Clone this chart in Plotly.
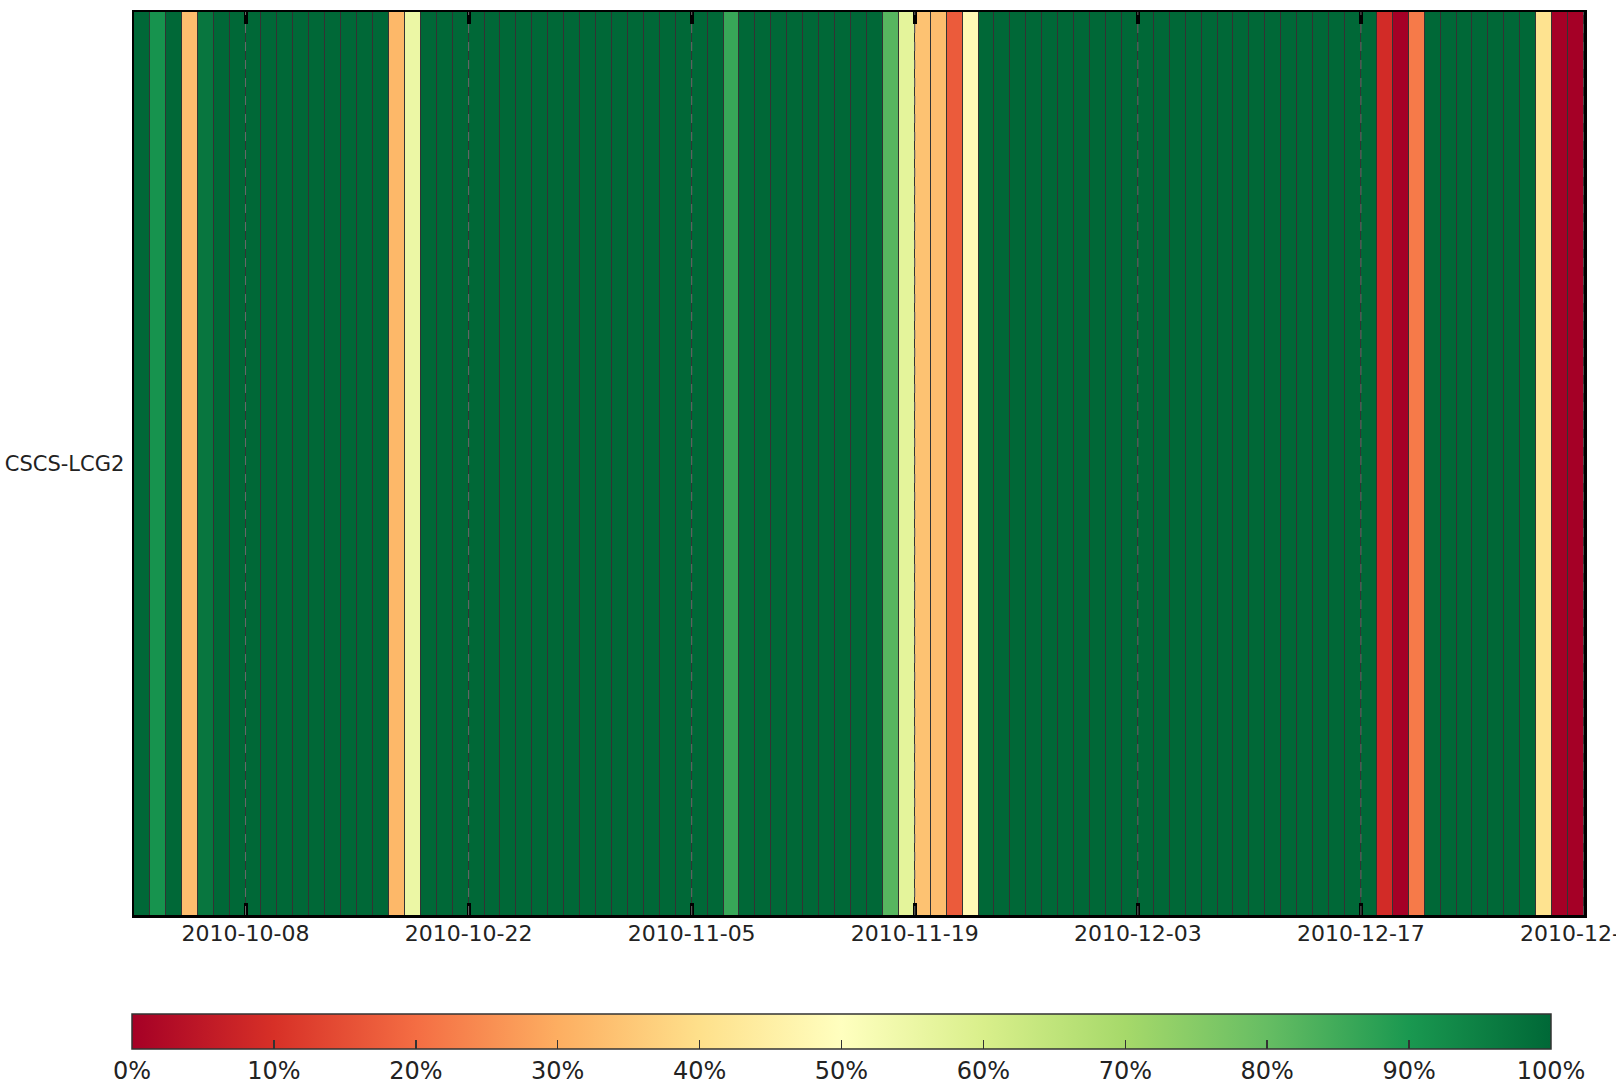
import pandas as pd
import plotly.graph_objects as go

# ---- data ----
site = ["CSCS-LCG2"]
start_day = "2010-10-01"
end_day = "2010-12-31"
n_days = 91
days = pd.date_range(start_day, periods=n_days, freq="D")
availability = [
    100, 91, 100, 33, 97, 100, 100, 100, 100, 100,
    100, 100, 100, 100, 100, 100, 32, 55, 100, 100,
    100, 100, 100, 100, 100, 100, 100, 100, 100, 100,
    100, 100, 100, 100, 100, 100, 100, 86, 100, 100,
    100, 100, 100, 100, 100, 100, 100, 82, 57, 34,
    33, 17, 48, 100, 100, 100, 100, 100, 100, 100,
    100, 100, 100, 100, 100, 100, 100, 100, 100, 100,
    100, 100, 100, 100, 100, 100, 100, 100, 9, 0,
    22, 100, 100, 100, 100, 100, 100, 100, 41, 0,
    0,
]
tick_dates = ["2010-10-08", "2010-10-22", "2010-11-05", "2010-11-19",
              "2010-12-03", "2010-12-17", "2010-12-31"]
cbar_vals = [0, 10, 20, 30, 40, 50, 60, 70, 80, 90, 100]
cbar_text = [f"{v}%" for v in cbar_vals]

rdylgn = ["#a50026", "#d73027", "#f46d43", "#fdae61", "#fee08b", "#ffffbf",
          "#d9ef8b", "#a6d96a", "#66bd63", "#1a9850", "#006837"]
colorscale = [[i / 10, c] for i, c in enumerate(rdylgn)]

# cell centres at noon so each column spans one full day
x_centres = [d + pd.Timedelta(hours=12) for d in days]

W, H = 1616, 1083
ML, MR, MT, MB = 134, 32, 12, 168
PW, PH = W - ML - MR, H - MT - MB
CB_TOP = 1014

fig = go.Figure()
fig.add_trace(go.Heatmap(
    z=[availability],
    x=x_centres,
    y=site,
    zmin=0, zmax=100,
    colorscale=colorscale,
    xgap=1,
    hoverinfo="skip",
    colorbar=dict(
        orientation="h",
        x=(132 - ML) / PW, xanchor="left",
        y=-(CB_TOP - (H - MB)) / PH, yanchor="top",
        len=1419, lenmode="pixels",
        thickness=35,
        xpad=0, ypad=0,
        outlinewidth=1.5, outlinecolor="#333333",
        tickvals=cbar_vals, ticktext=cbar_text,
        ticks="inside", ticklen=9, tickwidth=1.5, tickcolor="#333333",
        tickfont=dict(family="DejaVu Sans", size=24, color="#222222"),
    ),
))

for t in tick_dates:
    fig.add_shape(type="line", xref="x", yref="paper", x0=t, x1=t, y0=0, y1=1,
                  line=dict(color="#6a6a6a", width=1, dash="dash"), layer="above")

fig.update_layout(
    width=W, height=H,
    margin=dict(l=ML, r=MR, t=MT, b=MB, autoexpand=False),
    paper_bgcolor="white",
    plot_bgcolor="#333333",
    font=dict(family="DejaVu Sans", color="#222222"),
    showlegend=False,
)
fig.update_xaxes(
    type="date",
    range=[start_day, end_day],
    tickvals=tick_dates, ticktext=tick_dates,
    ticks="inside", ticklen=12, tickwidth=4, tickcolor="black",
    showline=True, linewidth=2.5, linecolor="black", mirror="ticks",
    showgrid=False, zeroline=False,
    ticklabeloverflow="allow",
    ticklabelstandoff=-3,
    tickfont=dict(size=22, color="#222222"),
)
fig.update_yaxes(
    ticks="", showline=True, linewidth=2.5, linecolor="black", mirror=True,
    showgrid=False, zeroline=False,
    tickfont=dict(size=21, color="#222222"),
    ticklabelstandoff=3,
)

fig.write_html(
    "out.html",
    config={"displayModeBar": False, "staticPlot": True},
    post_script="document.body.style.margin='0';document.body.style.overflow='hidden';",
)
